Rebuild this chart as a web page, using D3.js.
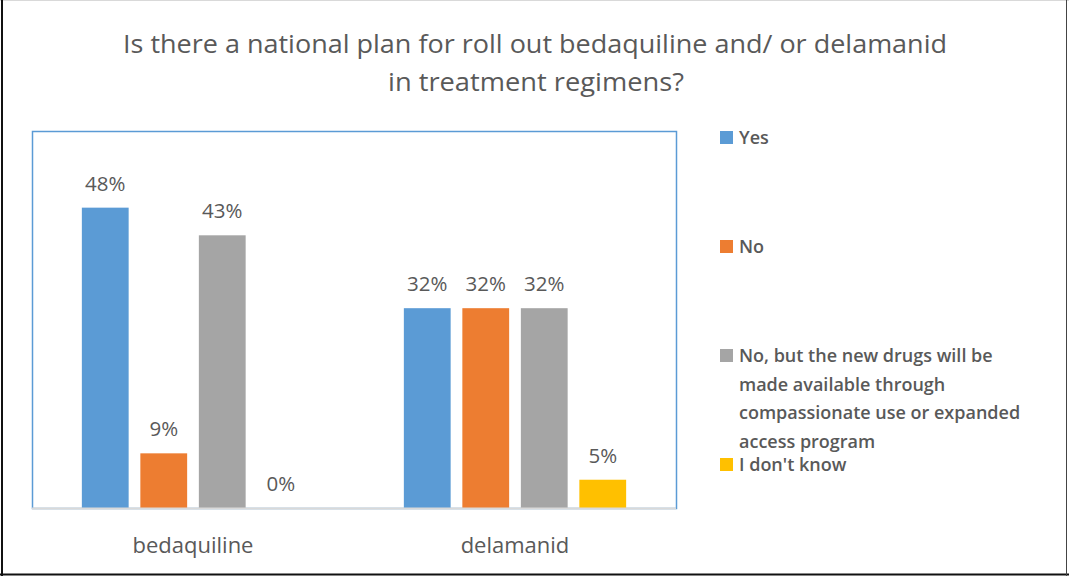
<!DOCTYPE html>
<html>
<meta charset="utf-8">
<title>National plan roll out</title>
<style>
  body { margin: 0; background: #fff; }
  text { font-family: "Open Sans", sans-serif; fill: #595959; }
</style>
<script src="https://d3js.org/d3.v7.min.js"></script>
<body>
<script>
  // data (percent)
  var drugs = ['bedaquiline', 'delamanid'];
  var answers = ['Yes', 'No', 'No, but the new drugs will be made available through compassionate use or expanded access program', "I don't know"];
  var bedaquiline = [47.8, 8.7, 43.4, 0];
  var delamanid = [31.8, 31.8, 31.8, 4.5];
  var colors = ['#5b9bd5', '#ed7d31', '#a5a5a5', '#ffc000'];
  var titleLines = ['Is there a national plan for roll out bedaquiline and/ or delamanid', 'in treatment regimens?'];

  var W = 1069, H = 576;
  var plot = {left: 32, right: 676, top: 131, bottom: 508};

  var svg = d3.select('body').append('svg')
      .attr('width', W).attr('height', H);

  // outer frame
  svg.append('rect').attr('x', 0).attr('y', 0).attr('width', W).attr('height', H).attr('fill', '#fff');
  svg.append('line').attr('x1', 0).attr('x2', W).attr('y1', 0.5).attr('y2', 0.5).attr('stroke', '#d9d9d9');
  svg.append('line').attr('x1', 2).attr('x2', 2).attr('y1', 0).attr('y2', H).attr('stroke', '#111').attr('stroke-width', 2);
  svg.append('line').attr('x1', 0).attr('x2', W).attr('y1', 574.5).attr('y2', 574.5).attr('stroke', '#111').attr('stroke-width', 2);
  svg.append('line').attr('x1', 1066.5).attr('x2', 1066.5).attr('y1', 0).attr('y2', H).attr('stroke', '#444');

  // title
  svg.append('text').attr('x', 535).attr('y', 53)
      .attr('text-anchor', 'middle')
      .attr('textLength', 824).attr('lengthAdjust', 'spacingAndGlyphs')
      .style('font-size', '26px')
      .text(titleLines[0]);
  svg.append('text').attr('x', 536).attr('y', 91)
      .attr('text-anchor', 'middle')
      .attr('textLength', 296).attr('lengthAdjust', 'spacingAndGlyphs')
      .style('font-size', '26px')
      .text(titleLines[1]);

  var x0 = d3.scaleBand().domain(drugs).range([plot.left, plot.right]);
  var x1 = d3.scaleBand().domain(d3.range(4)).range([0, 234]).paddingInner(0.2).paddingOuter(0.1);
  var y = d3.scaleLinear().domain([0, 60]).range([plot.bottom, plot.top]);

  // plot area border
  svg.append('rect')
      .attr('x', plot.left + 0.5).attr('y', plot.top + 0.5)
      .attr('width', plot.right - plot.left).attr('height', plot.bottom - plot.top)
      .attr('fill', 'none').attr('stroke', '#5b9bd5').attr('stroke-width', 1.5);

  var rows = [bedaquiline, delamanid];
  var groups = svg.selectAll('.grp').data(drugs).enter().append('g')
      .attr('class', 'grp')
      .attr('transform', function(d) { return 'translate(' + (x0(d) + x0.bandwidth() / 2 - 117) + ',0)'; });

  groups.selectAll('rect').data(function(d, i) { return rows[i]; }).enter().append('rect')
      .attr('x', function(d, j) { return x1(j); })
      .attr('width', x1.bandwidth())
      .attr('y', function(d) { return y(d); })
      .attr('height', function(d) { return y(0) - y(d); })
      .attr('fill', function(d, j) { return colors[j]; });

  groups.selectAll('.lbl').data(function(d, i) { return rows[i]; }).enter().append('text')
      .attr('class', 'lbl')
      .attr('x', function(d, j) { return x1(j) + x1.bandwidth() / 2; })
      .attr('y', function(d) { return y(d) - 17; })
      .attr('text-anchor', 'middle')
      .style('font-size', '20.5px')
      .text(function(d) { return Math.round(d) + '%'; });

  // baseline
  svg.append('line').attr('x1', plot.left).attr('x2', plot.right)
      .attr('y1', plot.bottom + 0.5).attr('y2', plot.bottom + 0.5)
      .attr('stroke', '#d9d9d9').attr('stroke-width', 2);

  // category labels
  svg.selectAll('.cat').data(drugs).enter().append('text')
      .attr('class', 'cat')
      .attr('x', function(d) { return x0(d) + x0.bandwidth() / 2; })
      .attr('y', 553)
      .attr('text-anchor', 'middle')
      .style('font-size', '22px')
      .text(function(d) { return d; });

  // legend
  var legendY = [137, 246, 355, 464];
  var legendLines = [['Yes'], ['No'], ['No, but the new drugs will be', 'made available through', 'compassionate use or expanded', 'access program'], ["I don't know"]];
  var legend = svg.selectAll('.legend').data(answers).enter().append('g')
      .attr('class', 'legend')
      .attr('transform', function(d, i) { return 'translate(720,' + legendY[i] + ')'; });
  legend.append('rect')
      .attr('x', 0).attr('y', -6).attr('width', 13).attr('height', 13)
      .attr('fill', function(d, i) { return colors[i]; });
  legend.each(function(d, i) {
    var t = d3.select(this).append('text').attr('x', 19).attr('y', 7)
        .style('font-size', '18px').style('font-weight', 600);
    legendLines[i].forEach(function(line, k) {
      t.append('tspan').attr('x', 19).attr('dy', k === 0 ? 0 : 28.5).text(line);
    });
  });
</script>
</body>
</html>
